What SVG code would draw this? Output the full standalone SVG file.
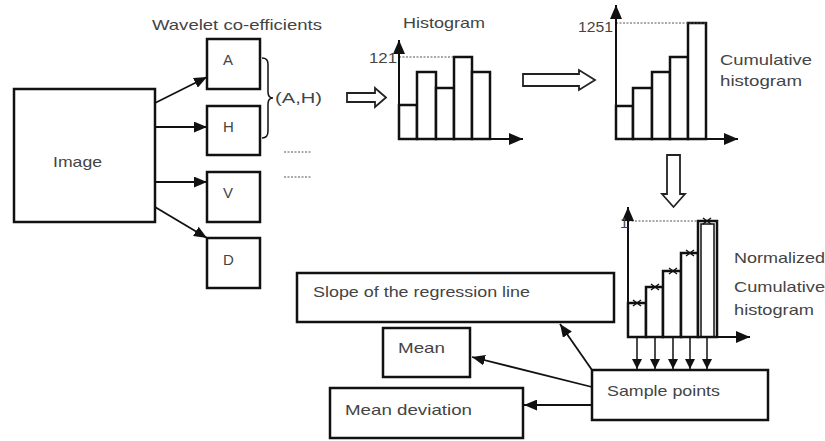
<svg xmlns="http://www.w3.org/2000/svg" width="825" height="441" viewBox="0 0 825 441">
<defs>
<marker id="ah" viewBox="0 0 12 10" refX="12" refY="5" markerWidth="13" markerHeight="11" orient="auto" markerUnits="userSpaceOnUse">
<path d="M0,0 L12,5 L0,10 z" fill="#111"/>
</marker>
<marker id="as" viewBox="0 0 10 10" refX="10" refY="5" markerWidth="11" markerHeight="10" orient="auto" markerUnits="userSpaceOnUse">
<path d="M0,0 L10,5 L0,10 z" fill="#111"/>
</marker>
<marker id="ax" viewBox="0 0 14 12" refX="14" refY="6" markerWidth="14" markerHeight="12" orient="auto" markerUnits="userSpaceOnUse">
<path d="M0,0 L14,6 L0,12 z" fill="#111"/>
</marker>
</defs>
<style>
text{font-family:"Liberation Sans",Arial,sans-serif;fill:#444;font-size:15px}
.box{fill:#fff;stroke:#111;stroke-width:2.5}
.bar{fill:#fff;stroke:#111;stroke-width:2.5}
.axis{fill:none;stroke:#111;stroke-width:2;marker-end:url(#ax)}
.conn{fill:none;stroke:#111;stroke-width:1.8;marker-end:url(#ah)}
.samp{fill:none;stroke:#111;stroke-width:1.5;marker-end:url(#as)}
.dot{fill:none;stroke:#555;stroke-width:1;stroke-dasharray:2,1.5}
.hollow{fill:#fff;stroke:#222;stroke-width:1.8}
.thin{fill:none;stroke:#111;stroke-width:1.5}
</style>
<rect width="825" height="441" fill="#fff"/>

<g id="connectors">
<line class="conn" x1="155" y1="103" x2="207" y2="77"/>
<line class="conn" x1="155" y1="127" x2="207" y2="127"/>
<line class="conn" x1="155" y1="182" x2="207" y2="182"/>
<line class="conn" x1="155" y1="207" x2="207" y2="238"/>
<line class="conn" x1="592" y1="370" x2="560" y2="324"/>
<line class="conn" x1="592" y1="387" x2="472" y2="357"/>
<line class="conn" x1="592" y1="405" x2="524" y2="405"/>
<line class="samp" x1="637" y1="303" x2="637" y2="369"/>
<line class="samp" x1="655" y1="287" x2="655" y2="369"/>
<line class="samp" x1="673" y1="271" x2="673" y2="369"/>
<line class="samp" x1="690" y1="253" x2="690" y2="369"/>
<line class="samp" x1="707" y1="221" x2="707" y2="369"/>
<path class="hollow" d="M347,93 L375,93 L375,88 L386,97.5 L375,107 L375,102 L347,102 Z"/>
<path class="hollow" d="M523,74 L579,74 L579,70 L595,80 L579,90 L579,86 L523,86 Z"/>
<path class="hollow" d="M667,155 L680,155 L680,194 L685,194 L673.5,207 L662,194 L667,194 Z"/>
</g>

<g id="image">
<rect class="box" x="14" y="89" width="141" height="133"/>
<text x="53" y="167" textLength="49" lengthAdjust="spacingAndGlyphs">Image</text>
</g>

<g id="wavelet-title">
<text x="152" y="30" textLength="170" lengthAdjust="spacingAndGlyphs">Wavelet co-efficients</text>
</g>

<g id="node-A">
<rect class="box" x="207" y="39" width="53" height="50"/>
<text x="223" y="65">A</text>
</g>
<g id="node-H">
<rect class="box" x="207" y="106" width="53" height="49"/>
<text x="223" y="132">H</text>
</g>
<g id="node-V">
<rect class="box" x="207" y="172" width="53" height="50"/>
<text x="223" y="198">V</text>
</g>
<g id="node-D">
<rect class="box" x="207" y="238" width="53" height="50"/>
<text x="223" y="265">D</text>
</g>

<g id="brace">
<path class="thin" d="M262,58 Q268,58 268,64 L268,92 Q268,98 273,98 Q268,98 268,104 L268,131 Q268,138 262,138"/>
<text x="275" y="103" textLength="47" lengthAdjust="spacingAndGlyphs">(A,H)</text>
<line class="dot" x1="284" y1="152" x2="312" y2="152"/>
<line class="dot" x1="284" y1="177" x2="312" y2="177"/>
</g>

<g id="histogram">
<text x="403" y="28" textLength="82" lengthAdjust="spacingAndGlyphs">Histogram</text>
<rect class="bar" x="399" y="105" width="18" height="34"/>
<rect class="bar" x="417" y="72" width="19" height="67"/>
<rect class="bar" x="436" y="88" width="18" height="51"/>
<rect class="bar" x="454" y="57" width="18" height="82"/>
<rect class="bar" x="472" y="72" width="18" height="67"/>
<line class="dot" x1="399" y1="57" x2="454" y2="57"/>
<line class="axis" x1="399" y1="139" x2="399" y2="40"/>
<line class="axis" x1="398" y1="139" x2="523" y2="139"/>
<text x="369" y="63" textLength="28" lengthAdjust="spacingAndGlyphs">121</text>
</g>

<g id="cumulative-histogram">
<rect class="bar" x="616" y="106" width="17" height="33"/>
<rect class="bar" x="633" y="88" width="19" height="51"/>
<rect class="bar" x="652" y="72" width="18" height="67"/>
<rect class="bar" x="670" y="57" width="18" height="82"/>
<rect class="bar" x="688" y="23" width="18" height="116"/>
<line class="dot" x1="616" y1="23" x2="706" y2="23"/>
<line class="axis" x1="616" y1="139" x2="616" y2="5"/>
<line class="axis" x1="615" y1="139" x2="738" y2="139"/>
<text x="578" y="32" textLength="35" lengthAdjust="spacingAndGlyphs">1251</text>
<text x="720" y="65" textLength="92" lengthAdjust="spacingAndGlyphs">Cumulative</text>
<text x="720" y="86" textLength="82" lengthAdjust="spacingAndGlyphs">histogram</text>
</g>

<g id="normalized-histogram">
<rect class="bar" x="628" y="303" width="18" height="34"/>
<rect class="bar" x="646" y="287" width="17" height="50"/>
<rect class="bar" x="663" y="271" width="18" height="66"/>
<rect class="bar" x="681" y="253" width="17" height="84"/>
<rect class="bar" x="698" y="221" width="19" height="116"/>
<rect class="thin" x="701" y="224" width="13" height="113"/>
<line class="dot" x1="628" y1="221" x2="698" y2="221"/>
<g stroke="#111" stroke-width="1.4">
<path d="M633,300 L641,306 M633,306 L641,300 M631,303 L643,303"/>
<path d="M651,284 L659,290 M651,290 L659,284 M649,287 L661,287"/>
<path d="M669,268 L677,274 M669,274 L677,268 M667,271 L679,271"/>
<path d="M686,250 L694,256 M686,256 L694,250 M684,253 L696,253"/>
<path d="M703,218 L711,224 M703,224 L711,218 M701,221 L713,221"/>
</g>
<line class="axis" x1="628" y1="337" x2="628" y2="207"/>
<line class="axis" x1="627" y1="337" x2="750" y2="337"/>
<text x="620" y="228" font-size="11">1</text>
<text x="734" y="263" textLength="91" lengthAdjust="spacingAndGlyphs">Normalized</text>
<text x="734" y="292" textLength="91" lengthAdjust="spacingAndGlyphs">Cumulative</text>
<text x="734" y="315" textLength="80" lengthAdjust="spacingAndGlyphs">histogram</text>
</g>

<g id="slope">
<rect class="box" x="297" y="273" width="317" height="49"/>
<text x="313" y="297" textLength="217" lengthAdjust="spacingAndGlyphs">Slope of the regression line</text>
</g>
<g id="mean">
<rect class="box" x="383" y="328" width="87" height="49"/>
<text x="398" y="353" textLength="47" lengthAdjust="spacingAndGlyphs">Mean</text>
</g>
<g id="mean-deviation">
<rect class="box" x="330" y="388" width="193" height="50"/>
<text x="345" y="415" textLength="127" lengthAdjust="spacingAndGlyphs">Mean deviation</text>
</g>
<g id="sample-points">
<rect class="box" x="592" y="370" width="176" height="50"/>
<text x="607" y="396" textLength="113" lengthAdjust="spacingAndGlyphs">Sample points</text>
</g>
</svg>
